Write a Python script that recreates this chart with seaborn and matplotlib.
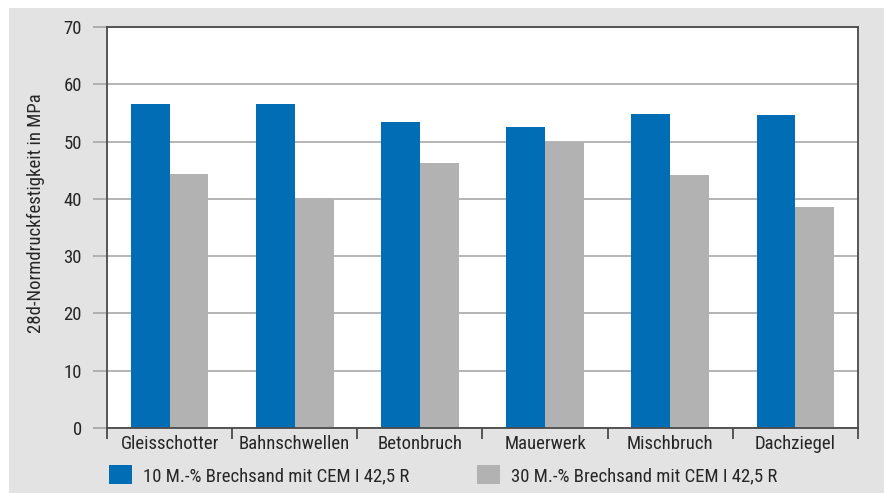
import matplotlib
matplotlib.use("Agg")
import matplotlib.pyplot as plt
from matplotlib import font_manager
import seaborn as sns
import pandas as pd
from matplotlib.patches import Rectangle

categories = ["Gleisschotter", "Bahnschwellen", "Betonbruch", "Mauerwerk", "Mischbruch", "Dachziegel"]
series_names = ["10 M.-% Brechsand mit CEM I 42,5 R", "30 M.-% Brechsand mit CEM I 42,5 R"]
values_10 = [56.6, 56.6, 53.4, 52.5, 54.8, 54.6]
values_30 = [44.3, 40.2, 46.3, 49.9, 44.2, 38.6]
y_ticks = [0, 10, 20, 30, 40, 50, 60, 70]

df = pd.DataFrame({
    "Material": categories * 2,
    "Serie": [series_names[0]] * len(categories) + [series_names[1]] * len(categories),
    "Wert": values_10 + values_30,
})

# the original uses a condensed face, take the narrowest one we have
names = {f.name for f in font_manager.fontManager.ttflist}
wanted = ["Noto Sans ExtraCondensed", "Roboto Condensed", "Liberation Sans Narrow",
          "Open Sans Condensed", "Noto Sans Condensed", "DejaVu Sans Condensed"]
found = [n for n in wanted if n in names]
if not found:
    found = sorted(n for n in names if "Narrow" in n or "Condensed" in n)[:1]
font_list = found[:1] + ["Liberation Sans", "DejaVu Sans"]

sns.set_style("white")
plt.rcParams["font.family"] = font_list

fig = plt.figure(figsize=(8.84, 4.93), dpi=100)
fig.patch.set_facecolor("white")

# font size from the width of the first label in the reference (a bit wider allowed)
probe = fig.text(0, 0, categories[0], fontsize=14)
w = probe.get_window_extent(fig.canvas.get_renderer()).width
probe.remove()
fs = min(14.0, 14.0 * 99.0 / w)

# grey panel behind the chart
fig.patches.append(Rectangle((9 / 884, 0), 1, 1 - 8 / 493, transform=fig.transFigure,
                             facecolor="#e3e3e3", edgecolor="none", zorder=-10))

ax = fig.add_axes([107 / 884, 1 - 428 / 493, (858 - 107) / 884, (428 - 27) / 493])
ax.set_facecolor("white")

sns.barplot(data=df, x="Material", y="Wert", hue="Serie", ax=ax,
            palette=["#006db5", "#b2b2b2"], width=0.62, saturation=1, gap=0, linewidth=0)

ax.set_ylim(0, 70)
ax.set_xlim(-0.5, len(categories) - 0.5)
ax.set_yticks(y_ticks)
ax.yaxis.grid(True, color="#a8a8a8", linewidth=1.2)
ax.set_axisbelow(True)

for side in ["left", "right", "top", "bottom"]:
    ax.spines[side].set_visible(True)
    ax.spines[side].set_color("#4a4a4a")
    ax.spines[side].set_linewidth(1.3)

ax.tick_params(axis="y", length=10, color="#a8a8a8", width=1.2, labelsize=max(fs, 13.0),
               pad=8, left=True)
# the outer ticks at 0 and 70 continue the dark frame
ytl = ax.yaxis.get_major_ticks()
for t in (ytl[0], ytl[-1]):
    t.tick1line.set_color("#4a4a4a")
    t.tick1line.set_markeredgewidth(1.3)
ax.tick_params(axis="x", which="major", length=0, labelsize=fs, pad=5)
ax.set_xticks([i - 0.5 for i in range(len(categories) + 1)], minor=True)
ax.tick_params(axis="x", which="minor", length=8, color="#4a4a4a", width=1.3, bottom=True)

ax.set_xlabel("")
ax.set_ylabel("28d-Normdruckfestigkeit in MPa", fontsize=fs)
ax.yaxis.set_label_coords((45 - 107) / 751, (428 - 213) / 401)

handles, labels = ax.get_legend_handles_labels()
ax.get_legend().remove()
for i, x0 in enumerate([109, 477]):
    fig.legend([handles[i]], [labels[i]], loc="center left",
               bbox_to_anchor=(x0 / 884, 1 - 475 / 493), borderpad=0, borderaxespad=0,
               frameon=False, fontsize=fs, handlelength=1.2, handleheight=1.2,
               handletextpad=0.6)

fig.savefig("out.png", dpi=100)
